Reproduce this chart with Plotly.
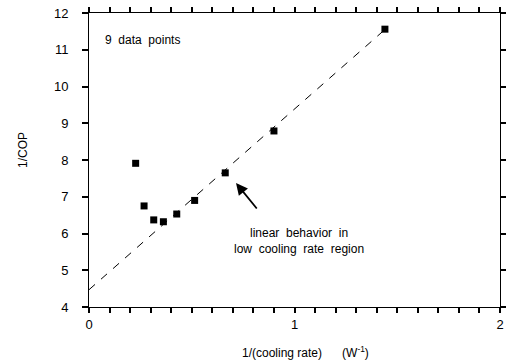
import plotly.graph_objects as go

# data
inv_rate = [0.227, 0.268, 0.315, 0.362, 0.427, 0.514, 0.663, 0.90, 1.44]
inv_cop = [7.91, 6.75, 6.37, 6.32, 6.53, 6.90, 7.65, 8.79, 11.56]
fit_x = [0.0, 1.44]
fit_y = [4.47, 11.55]
x_tick_vals = [i / 10 for i in range(21)]
x_tick_text = ["0" if i == 0 else "1" if i == 10 else "2" if i == 20 else "" for i in range(21)]

FONT = "Liberation Sans, Arial, sans-serif"

fig = go.Figure()
fig.add_trace(go.Scatter(x=fit_x, y=fit_y, mode="lines",
                         line=dict(color="black", width=1, dash="8px,8px"),
                         showlegend=False, hoverinfo="skip"))
fig.add_trace(go.Scatter(x=inv_rate, y=inv_cop, mode="markers",
                         marker=dict(symbol="square", size=7, color="black"),
                         showlegend=False))

axis_common = dict(showline=True, linecolor="black", mirror="ticks",
                   ticks="outside", tickcolor="black", tickwidth=1.5,
                   gridcolor="white", zerolinecolor="white", automargin=False,
                   tickfont=dict(family=FONT, size=13, color="black"))

fig.update_xaxes(range=[0, 2], tickmode="array", tickvals=x_tick_vals, ticktext=x_tick_text,
                 ticklen=5, **axis_common)
fig.update_yaxes(range=[4, 12], dtick=1, ticklen=6,
                 ticksuffix="&nbsp;&nbsp;&nbsp;", **axis_common)

fig.add_annotation(text="9  data  points", xref="paper", yref="paper",
                   x=(103-89)/411, y=1-(40-13)/294, xanchor="left", yanchor="middle",
                   showarrow=False, font=dict(family=FONT, size=12, color="black"))
fig.add_annotation(text="linear  behavior  in<br>low  cooling  rate  region",
                   xref="paper", yref="paper", x=(232-89)/411, y=1-(241-13)/294,
                   xanchor="left", yanchor="middle", align="center", showarrow=False,
                   font=dict(family=FONT, size=12, color="black"))
fig.add_annotation(x=(236-89)/411, y=1-(183-13)/294, xref="paper", yref="paper",
                   ax=22, ay=27, axref="pixel", ayref="pixel",
                   text="", showarrow=True, arrowhead=2, arrowsize=1.3, arrowwidth=1.8,
                   arrowcolor="black")
fig.add_annotation(text="1/(cooling rate)&nbsp;&nbsp;&nbsp;&nbsp;&nbsp;&nbsp;(W<sup>-1</sup>)",
                   xref="paper", yref="paper", x=(240-89)/411, y=-(352-307)/294,
                   xanchor="left", yanchor="middle", showarrow=False,
                   font=dict(family=FONT, size=12, color="black"))
fig.add_annotation(text="1/COP", xref="paper", yref="paper",
                   x=-(89-23)/411, y=1-(150-13)/294, textangle=-90,
                   xanchor="center", yanchor="middle", showarrow=False,
                   font=dict(family=FONT, size=12, color="black"))

fig.update_layout(width=506, height=364, margin=dict(l=89, r=6, t=13, b=57),
                  plot_bgcolor="white", paper_bgcolor="white")
fig.write_html("out.html")
